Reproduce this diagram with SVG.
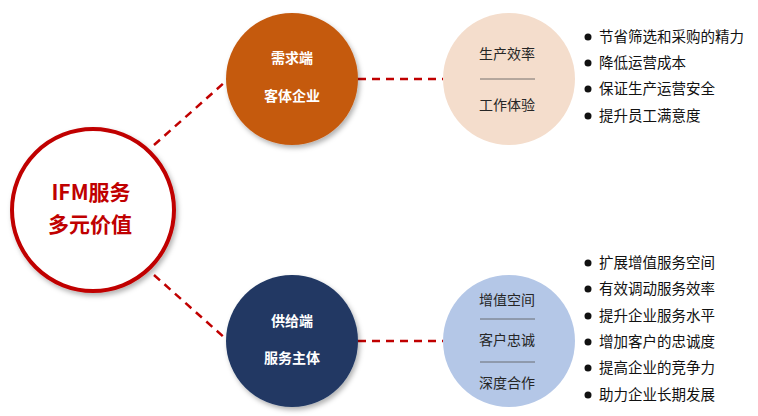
<svg xmlns="http://www.w3.org/2000/svg" width="758" height="416" viewBox="0 0 758 416">
<style>
text{font-family:"Noto Sans CJK SC","Liberation Sans",sans-serif}
.w{fill:#fff;font-size:14px;font-weight:bold;text-anchor:middle}
.d{fill:#262626;font-size:14px;text-anchor:middle}
.b{fill:#111;font-size:14.5px}
.c{stroke:#C00000;stroke-width:2.5;stroke-dasharray:8,6;fill:none}
.sep{stroke:#555;stroke-width:0.8}
</style>
<defs><filter id="s" x="-20%" y="-20%" width="150%" height="150%"><feDropShadow dx="2" dy="3" stdDeviation="2.5" flood-opacity="0.3"/></filter></defs>
<g id="connectors">
<line class="c" x1="154" y1="145" x2="225" y2="82"/>
<line class="c" x1="154" y1="275" x2="226" y2="339"/>
<line class="c" x1="358" y1="79" x2="443" y2="79"/>
<line class="c" x1="358" y1="341" x2="443" y2="341"/>
</g>
<g id="center"><circle cx="93" cy="210" r="81" fill="#fff" stroke="#C00000" stroke-width="4" filter="url(#s)"/>
<text x="91" y="200" fill="#C00000" font-size="21" font-weight="bold" text-anchor="middle">IFM服务</text>
<text x="90" y="232" fill="#C00000" font-size="21" font-weight="bold" text-anchor="middle">多元价值</text></g>
<g id="demand"><circle cx="292" cy="79" r="66" fill="#C55A11" filter="url(#s)"/>
<text class="w" x="292" y="63">需求端</text><text class="w" x="292" y="101">客体企业</text></g>
<g id="supply"><circle cx="292" cy="341" r="66" fill="#203864" filter="url(#s)"/>
<text class="w" x="292" y="326">供给端</text><text class="w" x="292" y="363">服务主体</text></g>
<g id="demandValue"><circle cx="509" cy="79" r="66" fill="#F4DDCC"/>
<text class="d" x="507" y="59">生产效率</text><line class="sep" x1="480" y1="79" x2="535" y2="79"/><text class="d" x="507" y="110">工作体验</text></g>
<g id="supplyValue"><circle cx="509" cy="341" r="66" fill="#B4C7E7"/>
<text class="d" x="507" y="305">增值空间</text><line class="sep" x1="480" y1="319" x2="535" y2="319"/>
<text class="d" x="507" y="345">客户忠诚</text><line class="sep" x1="480" y1="362" x2="535" y2="362"/>
<text class="d" x="507" y="388">深度合作</text></g>
<g id="demandList" fill="#111">
<circle cx="588" cy="37" r="3.5"/><text class="b" x="599" y="42">节省筛选和采购的精力</text>
<circle cx="588" cy="63" r="3.5"/><text class="b" x="599" y="68">降低运营成本</text>
<circle cx="588" cy="89" r="3.5"/><text class="b" x="599" y="94">保证生产运营安全</text>
<circle cx="588" cy="116" r="3.5"/><text class="b" x="599" y="121">提升员工满意度</text></g>
<g id="supplyList" fill="#111">
<circle cx="588" cy="263" r="3.5"/><text class="b" x="599" y="268">扩展增值服务空间</text>
<circle cx="588" cy="289" r="3.5"/><text class="b" x="599" y="294">有效调动服务效率</text>
<circle cx="588" cy="316" r="3.5"/><text class="b" x="599" y="321">提升企业服务水平</text>
<circle cx="588" cy="342" r="3.5"/><text class="b" x="599" y="347">增加客户的忠诚度</text>
<circle cx="588" cy="368" r="3.5"/><text class="b" x="599" y="373">提高企业的竞争力</text>
<circle cx="588" cy="395" r="3.5"/><text class="b" x="599" y="400">助力企业长期发展</text></g>
</svg>
